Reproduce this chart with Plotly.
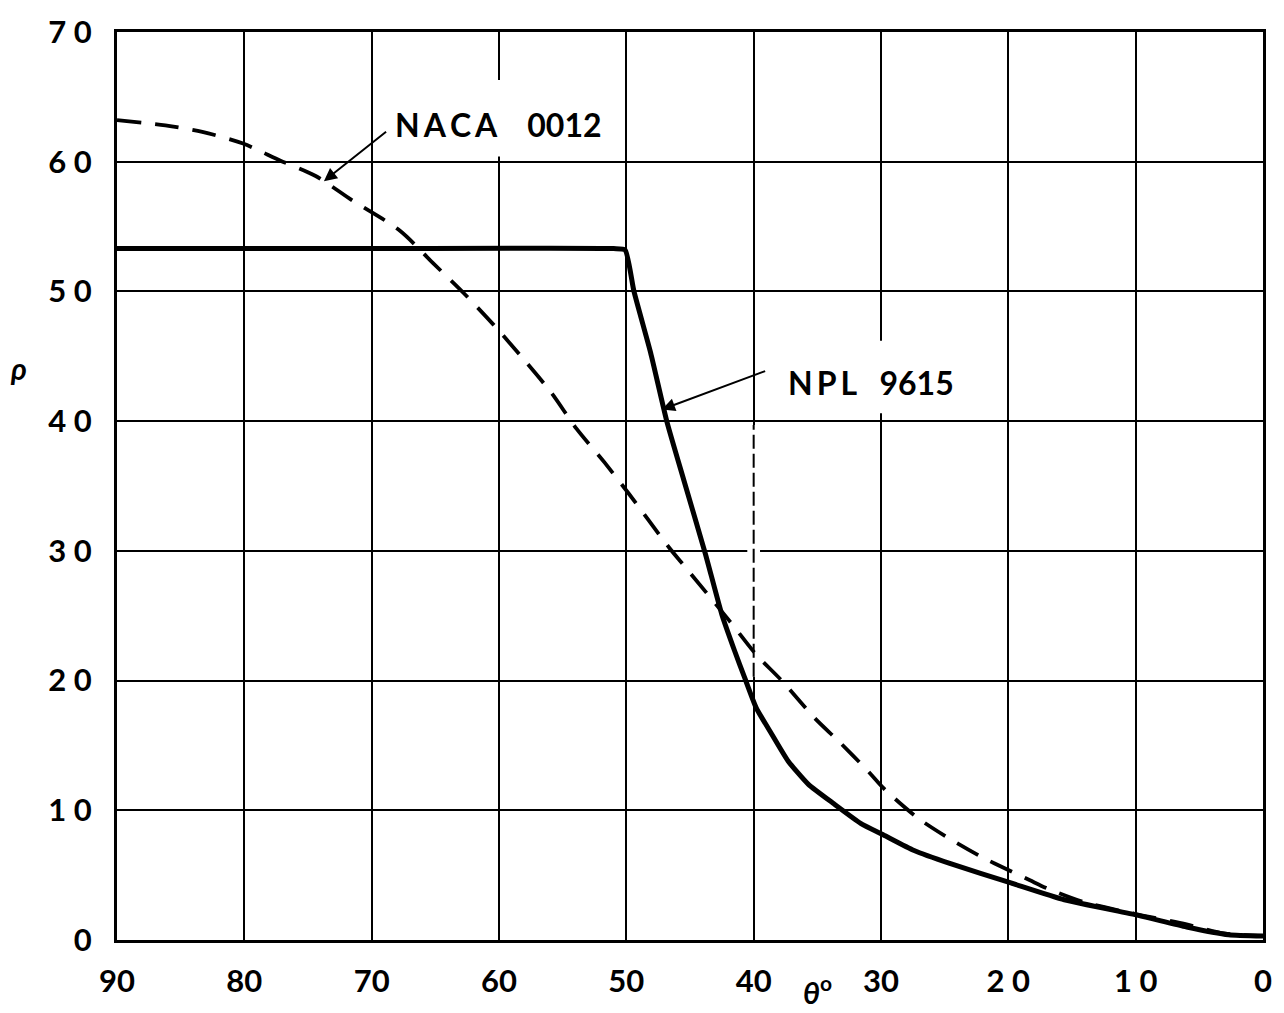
import plotly.graph_objects as go

# Tick positions and the printed tick labels
theta_ticks = [90, 80, 70, 60, 50, 40, 30, 20, 10, 0]
theta_ticktext = ["90", "80", "70", "60", "50", "40", "30", "2 0", "1 0", "0"]
rho_ticks = [0, 10, 20, 30, 40, 50, 60, 70]
rho_ticktext = ["0", "1 0", "2 0", "3 0", "4 0", "5 0", "6 0", "7 0"]

# NPL 9615 section (solid curve)
npl_theta = [90, 70, 51, 50.1, 49.4, 48.1, 46.8, 45.5, 43.8, 42.5, 41.5, 40.7,
             39.8, 38.6, 37.3, 35.7, 33.7, 31.6, 29.8, 27.4, 24.6, 19.8, 15.6,
             9.8, 6.0, 2.7, 0]
npl_rho = [53.3, 53.3, 53.3, 53.2, 50.0, 45.3, 39.9, 35.5, 29.8, 25.1, 22.3,
           20.2, 17.9, 15.9, 13.8, 12.0, 10.5, 9.0, 8.1, 6.9, 5.9, 4.4, 3.1,
           1.9, 1.0, 0.4, 0.3]

# NACA 0012 section (dashed curve)
naca_theta = [90, 86.2, 83.3, 80.1, 77.2, 74.4, 71.5, 67.8, 65.2, 62.8, 60.4,
              58.0, 55.9, 53.9, 51.7, 49.8, 46.6, 45.5, 41.9, 39.8, 37.8, 35.2,
              33.3, 31.0, 29.8, 27.1, 24.6, 22.1, 20.0, 18.3, 17.0, 14, 10, 6,
              3, 0]
naca_rho = [63.2, 62.8, 62.3, 61.4, 60.1, 58.9, 57.0, 54.7, 52.2, 49.9, 47.4,
            44.7, 42.2, 39.4, 36.8, 34.4, 30.2, 28.9, 24.6, 22.0, 20.0, 17.1,
            15.3, 13.0, 11.7, 9.4, 7.8, 6.4, 5.4, 4.6, 4.0, 2.9, 2.0, 1.2,
            0.5, 0.3]

FONT = "Lato"

fig = go.Figure()
fig.add_trace(go.Scatter(x=naca_theta, y=naca_rho, mode="lines",
                         line=dict(color="black", width=3.8, dash="24px,14px",
                                   shape="spline", smoothing=0.8),
                         showlegend=False, hoverinfo="skip"))
fig.add_trace(go.Scatter(x=npl_theta, y=npl_rho, mode="lines",
                         line=dict(color="black", width=5,
                                   shape="spline", smoothing=0.5),
                         showlegend=False, hoverinfo="skip"))

# Breaks in the grid where the labels sit, and the broken line at 40 deg
shapes = [
    dict(type="rect", xref="x", yref="y", x0=60.6, x1=59.4, y0=60.4, y1=66.3,
         fillcolor="white", line=dict(width=0), layer="between"),
    dict(type="rect", xref="x", yref="y", x0=30.6, x1=29.4, y0=40.6, y1=46.2,
         fillcolor="white", line=dict(width=0), layer="between"),
    dict(type="rect", xref="x", yref="y", x0=40.5, x1=39.5, y0=20.3, y1=39.7,
         fillcolor="white", line=dict(width=0), layer="between"),
    dict(type="line", xref="x", yref="y", x0=40, x1=40, y0=20.3, y1=39.7,
         line=dict(color="black", width=2, dash="14px,5px"), layer="between"),
]

annotations = [
    # arrows
    dict(x=73.75, y=58.5, ax=68.75, ay=62.4, xref="x", yref="y",
         axref="x", ayref="y", text="", showarrow=True, arrowhead=2,
         arrowsize=1.3, arrowwidth=2, arrowcolor="black"),
    dict(x=47.2, y=40.9, ax=38.98, ay=43.9, xref="x", yref="y",
         axref="x", ayref="y", text="", showarrow=True, arrowhead=2,
         arrowsize=1.3, arrowwidth=2, arrowcolor="black"),
    # curve labels
    dict(x=68.3, y=62.9, xref="x", yref="y", xanchor="left", yanchor="middle",
         text="N\u2009A\u2009C\u2009A\u00a0\u00a0\u00a0\u00a00012",
         showarrow=False,
         font=dict(family=FONT, size=32, color="black", weight="bold")),
    dict(x=37.5, y=43.0, xref="x", yref="y", xanchor="left", yanchor="middle",
         text="N\u2009P\u2009L\u00a0\u00a0\u00a09615", showarrow=False,
         font=dict(family=FONT, size=32, color="black", weight="bold")),
    # axis titles
    dict(x=18, y=365, xref="paper", yref="paper", text="<i>ρ</i>",
         xanchor="center", yanchor="middle",
         showarrow=False, font=dict(family=FONT, size=30, color="black",
                                    weight="bold")),
    dict(x=820, y=990, xref="paper", yref="paper",
         text="<i>θ</i><sup>o</sup>", xanchor="center", yanchor="middle",
         showarrow=False, font=dict(family=FONT, size=30, color="black",
                                    weight="bold")),
]

# convert pixel positions of the axis titles to paper coordinates
L, R, T, B = 117, 17, 28, 73
W, H = 1284, 1013
for a in annotations[-2:]:
    px, py = a["x"], a["y"]
    a["x"] = (px - L) / (W - L - R)
    a["y"] = (H - B - py) / (H - T - B)

axis_font = dict(family=FONT, size=31, color="black", weight="bold")

fig.update_layout(
    width=W, height=H,
    margin=dict(l=L, r=R, t=T, b=B),
    paper_bgcolor="white", plot_bgcolor="white",
    shapes=shapes, annotations=annotations,
    xaxis=dict(range=[90, 0], tickvals=theta_ticks, ticktext=theta_ticktext,
               showgrid=True, gridcolor="black", gridwidth=2,
               showline=True, linecolor="black", linewidth=3, mirror=True,
               zeroline=False, ticks="", ticklabelstandoff=12,
               tickfont=axis_font),
    yaxis=dict(range=[0, 70], tickvals=rho_ticks, ticktext=rho_ticktext,
               showgrid=True, gridcolor="black", gridwidth=2,
               showline=True, linecolor="black", linewidth=3, mirror=True,
               zeroline=False, ticks="", ticklabelstandoff=16,
               tickfont=axis_font),
)

fig.write_html("out.html")
